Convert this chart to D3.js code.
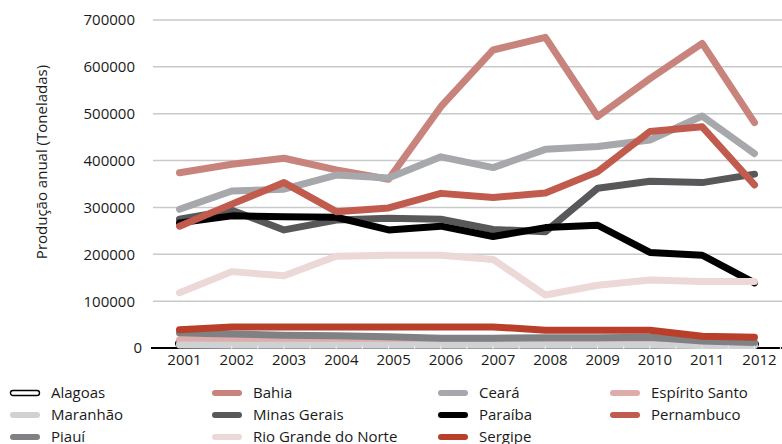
<!DOCTYPE html>
<html>
<head>
<meta charset="utf-8">
<script src="https://cdn.jsdelivr.net/npm/d3@7"></script>
<style>
  html, body { margin: 0; padding: 0; background: #fff; }
  svg { display: block; font-family: "Open Sans", "Noto Sans", sans-serif; }
</style>
</head>
<body>
<svg id="chart" width="782" height="444"></svg>
<script>
// Anual production by state, 2001–2012 (tonnes)
const years = ["2001","2002","2003","2004","2005","2006","2007","2008","2009","2010","2011","2012"];
const yTicks = [0, 100000, 200000, 300000, 400000, 500000, 600000, 700000];

const alagoas       = [9600, 9400, 9300, 9200, 9000, 9100, 8900, 8800, 8700, 8800, 8500, 8300];
const bahia         = [374000, 392000, 405000, 380000, 360000, 515000, 636000, 663000, 494000, 575000, 650000, 481000];
const ceara         = [296000, 335000, 339000, 369000, 363000, 408000, 385000, 424000, 430000, 444000, 495000, 415000];
const espiritoSanto = [17000, 16500, 16000, 15500, 15000, 15200, 14800, 14500, 14000, 14200, 12000, 11000];
const maranhao      = [6200, 6100, 6000, 6100, 5900, 6000, 5800, 5700, 5900, 5800, 5600, 5500];
const minasGerais   = [275000, 294000, 252000, 273000, 277000, 275000, 253000, 248000, 341000, 356000, 353000, 371000];
const paraiba       = [267000, 282000, 280000, 279000, 252000, 260000, 238000, 257000, 262000, 204000, 198000, 139000];
const pernambuco    = [260000, 307000, 353000, 291000, 299000, 330000, 321000, 331000, 376000, 462000, 472000, 348000];
const piaui         = [32000, 30000, 27000, 26000, 24000, 21000, 21000, 22000, 22000, 23000, 15000, 12000];
const rioGrandeNorte= [118000, 163000, 154000, 196000, 198000, 198000, 189000, 113000, 134000, 145000, 142000, 142000];
const sergipe       = [39000, 45000, 45000, 45000, 45000, 45000, 45000, 38000, 38000, 38000, 25000, 23000];

const seriesNames  = ["Alagoas","Bahia","Ceará","Espírito Santo","Maranhão","Minas Gerais","Paraíba","Pernambuco","Piauí","Rio Grande do Norte","Sergipe"];
const seriesValues = [alagoas, bahia, ceara, espiritoSanto, maranhao, minasGerais, paraiba, pernambuco, piaui, rioGrandeNorte, sergipe];
const seriesColors = ["#ffffff","#c8837c","#a7a8ab","#dcadab","#d0d1d3","#58585a","#000000","#c05b4d","#808184","#ecd8d7","#b93f2b"];

const svg = d3.select("#chart");

const x = d3.scalePoint().domain(years).range([179.5, 754.5]);
const y = d3.scaleLinear().domain([0, 700000]).range([348, 20]);

const plotLeft = 153, plotRight = 782;

// horizontal gridlines
svg.append("g").selectAll("line")
  .data(yTicks.filter(d => d > 0))
  .join("line")
  .attr("x1", plotLeft).attr("x2", plotRight)
  .attr("y1", d => y(d)).attr("y2", d => y(d))
  .attr("stroke", "#c9c9c9").attr("stroke-width", 1.5);

// y tick labels
svg.append("g").selectAll("text")
  .data(yTicks)
  .join("text")
  .attr("x", d => d === 0 ? 142 : 135)
  .attr("y", d => y(d))
  .attr("dy", "0.36em")
  .attr("text-anchor", "end")
  .attr("font-size", 15)
  .attr("fill", "#1a1a1a")
  .text(d => d3.format("d")(d));

// y axis title
svg.append("text")
  .attr("transform", "translate(47,162) rotate(-90)")
  .attr("text-anchor", "middle")
  .attr("font-size", 15)
  .attr("fill", "#1a1a1a")
  .text("Produção anual (Toneladas)");

// category axis baseline
svg.append("line")
  .attr("x1", 151).attr("x2", plotRight)
  .attr("y1", y(0)).attr("y2", y(0))
  .attr("stroke", "#000").attr("stroke-width", 2);

// x tick labels
svg.append("g").selectAll("text")
  .data(years)
  .join("text")
  .attr("x", d => x(d) + 5)
  .attr("y", 364.5)
  .attr("text-anchor", "middle")
  .attr("font-size", 15)
  .attr("fill", "#1a1a1a")
  .text(d => d);

const line = d3.line()
  .x((d, i) => x(years[i]))
  .y(d => y(d));

const lines = svg.append("g")
  .attr("fill", "none")
  .attr("stroke-linecap", "round")
  .attr("stroke-linejoin", "round");

seriesValues.forEach((vals, k) => {
  if (k === 0) {
    // outlined series: dark edge with white core
    lines.append("path").attr("d", line(vals))
      .attr("stroke", "#000").attr("stroke-width", 9);
    lines.append("path").attr("d", line(vals))
      .attr("stroke", "#fff").attr("stroke-width", 6.2);
  } else {
    lines.append("path").attr("d", line(vals))
      .attr("stroke", seriesColors[k]).attr("stroke-width", 7);
  }
});

// small category ticks along the baseline
const step = x.step();
const tickXs = [];
years.forEach((yr, i) => {
  if (i > 0) tickXs.push(x(yr) - step / 2);
  tickXs.push(x(yr));
});
svg.append("g").selectAll("line")
  .data(tickXs.filter(v => v > 200))
  .join("line")
  .attr("x1", d => d + 26).attr("x2", d => d + 26)
  .attr("y1", 345.5).attr("y2", 349.5)
  .attr("stroke", "#e6e6e6").attr("stroke-width", 1.2);

// legend, four columns filled row by row
const legendCols = [10, 212, 438, 610];
const legendRows = [393, 415, 437];
const legend = svg.append("g");
seriesNames.forEach((name, k) => {
  const cx = legendCols[k % 4];
  const cy = legendRows[Math.floor(k / 4)];
  const g = legend.append("g").attr("transform", `translate(${cx},${cy})`);
  if (k === 0) {
    g.append("rect")
      .attr("x", 0.5).attr("y", -2.5).attr("width", 29).attr("height", 5)
      .attr("rx", 2.5)
      .attr("fill", "#fff").attr("stroke", "#000").attr("stroke-width", 1.4);
  } else {
    g.append("line")
      .attr("x1", 3).attr("x2", 27).attr("y1", 0).attr("y2", 0)
      .attr("stroke", seriesColors[k]).attr("stroke-width", 6)
      .attr("stroke-linecap", "round");
  }
  g.append("text")
    .attr("x", 41).attr("y", 0).attr("dy", "0.36em")
    .attr("font-size", 15).attr("fill", "#1a1a1a")
    .text(name);
});
</script>
</body>
</html>
